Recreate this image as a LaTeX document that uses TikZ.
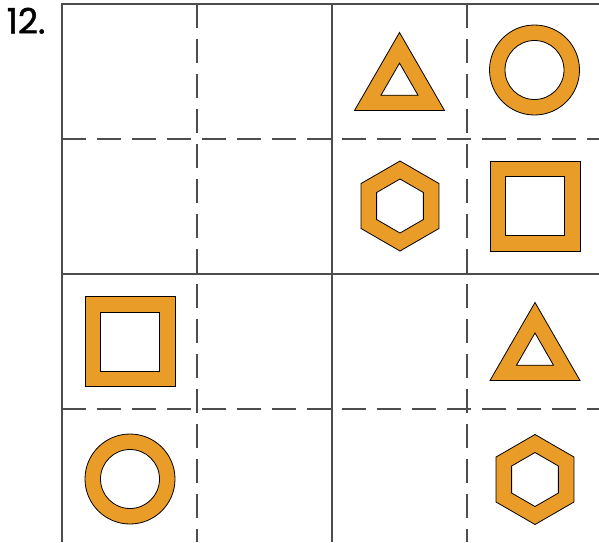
\documentclass[tikz,border=0pt]{standalone}
\usepackage{fontspec}
\setmainfont{Poppins}
\newfontfamily\numfont{Poppins}[FakeBold=1.2]
\usepackage{tikz}
\definecolor{cutOrange}{HTML}{E99C28}
\definecolor{gridGrey}{HTML}{4D4D4D}
\tikzset{
  gridsolid/.style={draw=gridGrey, line width=1.3pt},
  griddash/.style={draw=gridGrey, line width=1.3pt, dash pattern=on 24pt off 11pt},
  cutout/.style={fill=cutOrange, draw=black, line width=0.8pt, even odd rule, line join=miter},
  tasklabel/.style={font=\numfont\fontsize{35}{35}\selectfont, anchor=base west, inner sep=0pt},
}

\begin{document}
\begin{tikzpicture}[x=1pt,y=-1pt]
  \useasboundingbox (0,0) rectangle (599,542);

  % Number
  \node[tasklabel] (num) at (6.5,33.5) {12.};

  % Grid corners
  \coordinate (tl) at (62,4);
  \coordinate (tr) at (599,4);
  \coordinate (bl) at (62,542);

  % Grid lines
  \draw[griddash] (197,4) -- (197,542);
  \draw[griddash] (467,4) -- (467,542);
  \draw[griddash] (62,139) -- (599,139);
  \draw[griddash] (62,409) -- (599,409);
  \draw[gridsolid] (332,4) -- (332,542);
  \draw[gridsolid] (62,274) -- (599,274);
  \draw[gridsolid] (bl) -- (tl) -- (tr);

  % Row 1
  \path[cutout] (399.5,32.5) -- (444.5,110.5) -- (354.5,110.5) -- cycle
                (399.5,63.1) -- (418,95.2) -- (381,95.2) -- cycle;
  \path[cutout] (534.5,70) circle[radius=45] (534.5,70) circle[radius=29.5];

  % Row 2
  \path[cutout] (400,206) ++(90:45) -- ++(210:45) -- ++(270:45) -- ++(330:45) -- ++(30:45) -- ++(90:45) -- cycle
                (400,206) ++(90:27) -- ++(210:27) -- ++(270:27) -- ++(330:27) -- ++(30:27) -- ++(90:27) -- cycle;
  \path[cutout] (490,161) rectangle (580,251) (505.5,176.5) rectangle (564.5,235.5);

  % Row 3
  \path[cutout] (85,296.5) rectangle (175,386.5) (100.5,312) rectangle (159.5,371);
  \path[cutout] (535,302.5) -- (580,380.5) -- (490,380.5) -- cycle
                (535,333) -- (553.5,365.2) -- (516.5,365.2) -- cycle;

  % Row 4
  \path[cutout] (130,479) circle[radius=45] (130,479) circle[radius=29.5];
  \path[cutout] (535,479.5) ++(90:45) -- ++(210:45) -- ++(270:45) -- ++(330:45) -- ++(30:45) -- ++(90:45) -- cycle
                (535,479.5) ++(90:27) -- ++(210:27) -- ++(270:27) -- ++(330:27) -- ++(30:27) -- ++(90:27) -- cycle;
\end{tikzpicture}
\end{document}
